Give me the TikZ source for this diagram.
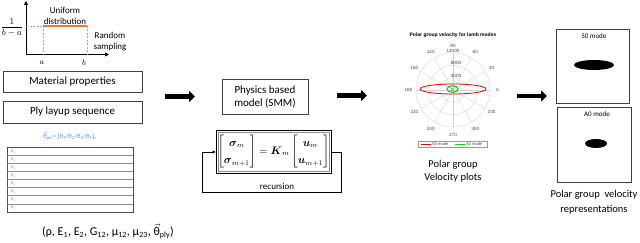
\documentclass[tikz,border=0pt]{standalone}
\usepackage{amsmath}
\usepackage{fontspec}
\setmainfont{Carlito}
\newfontfamily\arialf{Liberation Sans}
\usetikzlibrary{arrows.meta}
\definecolor{blueT}{RGB}{70,150,225}
\definecolor{orangeL}{RGB}{237,125,49}
\definecolor{dashB}{RGB}{120,175,230}
\begin{document}
\begin{tikzpicture}[x=1pt,y=-1pt,
  box/.style={draw=black!75, line width=0.6pt, inner sep=0pt, align=center},
  bigtext/.style={font=\fontsize{11}{13}\selectfont},
  bigarrow/.style={line width=4.6pt, -{Triangle[length=6pt,width=11pt]}},
  axisarrow/.style={line width=0.7pt, -{Triangle[length=4pt,width=4pt]}},
  dashline/.style={dashB, dashed, dash pattern=on 2pt off 1.5pt, line width=0.6pt},
  grid/.style={black!18, line width=0.35pt},
  plab/.style={font=\arialf\fontsize{4.6}{5}\selectfont, text=black!75, inner sep=0pt},
  thlab/.style={font=\fontsize{4}{4}\selectfont, text=blueT, inner sep=0pt, anchor=west},
  smalltext/.style={font=\fontsize{9}{10.5}\selectfont, align=center, inner sep=0pt}
]
\useasboundingbox (0,0) rectangle (640,243);
\fill[white] (0,0) rectangle (640,243);

% ---------- uniform distribution graph ----------
\coordinate (org) at (26,54.5);
\coordinate (ytop) at (26,1);
\coordinate (xend) at (109,54.5);
\draw[axisarrow] (org) -- (ytop);
\draw[axisarrow] (org) -- (xend);
\coordinate (fa) at (43,26);
\coordinate (fb) at (87,26);
\coordinate (fy) at (26,26);
\coordinate (xa) at (43,54.5);
\coordinate (xb) at (87,54.5);
\draw[dashline] (fy) -- (fa);
\draw[dashline] (fa) -- (xa);
\draw[dashline] (fb) -- (xb);
\draw[orangeL, line width=1.8pt] (fa) -- (fb);
\node[inner sep=0pt, font=\fontsize{9}{10}\selectfont] (frac) at (12,27.5) {$\dfrac{1}{b-a}$};
\node[inner sep=0pt, font=\fontsize{8}{9}\selectfont] (la) at (42,63) {$a$};
\node[inner sep=0pt, font=\fontsize{8}{9}\selectfont] (lb) at (84,63) {$b$};
\node[smalltext] (unif) at (65,16) {Uniform\\distribution};
\node[smalltext] (rand) at (110,41.5) {Random\\sampling};

% ---------- left column ----------
\node[box, bigtext, minimum width=139pt, minimum height=21pt] (mat) at (72.5,81.5) {Material properties};
\node[box, bigtext, minimum width=139pt, minimum height=22pt] (ply) at (72.5,112) {Ply layup sequence};
\node[inner sep=0pt, text=blueT, font=\fontsize{6.5}{7}\selectfont] (thply) at (70,136)
  {$\vec{\hbox{θ}}$\textsubscript{ply}= [θ\textsubscript{1}/θ\textsubscript{2}/θ\textsubscript{3}/θ\textsubscript{4}]\textsubscript{s}};
\node[draw=black!70, line width=0.6pt, minimum width=126pt, minimum height=65pt, inner sep=0pt] (tab) at (70,179.5) {};
\foreach \i in {1,...,7}{
  \draw[black!45, line width=0.7pt] (7,147+\i*8.125) -- (133,147+\i*8.125);
}
\foreach \i/\t in {0/1,1/2,2/3,3/4,4/4,5/3,6/2,7/1}{
  \node[thlab] (th\i) at (11,151.2+\i*8.125) {θ\textsubscript{\t}};
}
\node[inner sep=0pt, font=\fontsize{12}{14}\selectfont] (params) at (108,231)
  {(ρ, E\textsubscript{1}, E\textsubscript{2}, G\textsubscript{12}, μ\textsubscript{12}, μ\textsubscript{23}, $\vec{\hbox{θ}}$\textsubscript{ply})};

% ---------- arrows ----------
\coordinate (a1s) at (165,96.5);
\coordinate (a1e) at (195,96.5);
\draw[bigarrow] (a1s) -- (a1e);
\coordinate (a2s) at (337,95.5);
\coordinate (a2e) at (367,95.5);
\draw[bigarrow] (a2s) -- (a2e);
\coordinate (a3s) at (517,96);
\coordinate (a3e) at (547,96);
\draw[bigarrow] (a3s) -- (a3e);

% ---------- physics model ----------
\node[box, bigtext, minimum width=86pt, minimum height=35pt] (phys) at (265,96.5) {Physics based\\model (SMM)};
\node[draw=black, line width=0.8pt, minimum width=115pt, minimum height=43pt, inner sep=0pt] (eqbox) at (273.5,151.5) {};
\node[draw=black!45, line width=0.8pt, minimum width=111pt, minimum height=39pt, inner sep=0pt] (eqin) at (273.5,151.5) {};
\node[inner sep=0pt, font=\fontsize{10.5}{12}\selectfont] (eq) at (273.5,151.5)
  {\renewcommand{\arraystretch}{1.45}$\begin{bmatrix}\boldsymbol{\sigma}_m\\ \boldsymbol{\sigma}_{m+1}\end{bmatrix} = \boldsymbol{K}_m\begin{bmatrix}\boldsymbol{u}_m\\ \boldsymbol{u}_{m+1}\end{bmatrix}$};
\coordinate (r1) at (341,152);
\coordinate (r2) at (341,192);
\coordinate (r3) at (202,192);
\coordinate (r4) at (202,152);
\draw[line width=0.8pt, -{Triangle[length=3pt,width=3pt]}] (eqbox.east |- r1) -- (r1) -- (r2) -- (r3) -- (r4) -- (eqbox.west |- r4);
\node[smalltext] (rec) at (277,186.5) {recursion};

% ---------- polar plot ----------
\begin{scope}[shift={(453,90)}]
  \foreach \r in {12.33,24.67,37}{\draw[grid] (0,0) circle [radius=\r];}
  \foreach \a in {0,30,...,330}{\draw[grid] (0,0) -- (-\a:37);}
  \foreach \a in {0,30,...,330}{\node[plab] (p\a) at (-\a:44.5) {\a};}
  \node[plab] (r4k) at (3,-14.5) {4000};
  \node[plab] (r8k) at (3,-27) {8000};
  \node[plab] (r12k) at (0,-39.5) {12000};
  \node[plab] (r0) at (-0.5,-0.5) {0};
  \draw[red!90!black, line width=0.8pt] (0,-1) ellipse [x radius=33, y radius=5];
  \draw[green!85!black, line width=1.1pt] (-0.5,-1) ellipse [x radius=5.5, y radius=3.3];
\end{scope}
\node[plab, font=\arialf\bfseries\fontsize{5}{6}\selectfont, text=black] (ptitle) at (453,35.5) {Polar group velocity for lamb modes};
\node[draw=black!40, fill=white, line width=0.4pt, minimum width=69pt, minimum height=6.5pt, inner sep=0pt] (leg) at (452.5,144.2) {};
\coordinate (lr1) at (421,144.2);
\coordinate (lr2) at (431,144.2);
\draw[red!90!black, line width=0.6pt] (lr1) -- (lr2);
\node[plab, anchor=west, font=\arialf\fontsize{4}{5}\selectfont] (legs) at (432,144.2) {S0 mode};
\coordinate (lg1) at (455,144.2);
\coordinate (lg2) at (465,144.2);
\draw[green!85!black, line width=0.6pt] (lg1) -- (lg2);
\node[plab, anchor=west, font=\arialf\fontsize{4}{5}\selectfont] (lega) at (466,144.2) {A0 mode};
\node[bigtext, align=center, inner sep=0pt, font=\fontsize{10.5}{13}\selectfont] (pvp) at (453,171.5) {Polar group\\Velocity plots};

% ---------- representations ----------
\node[box, minimum width=73pt, minimum height=74pt] (s0box) at (592.5,66) {};
\node[inner sep=0pt, font=\fontsize{7}{8}\selectfont] (s0t) at (594,36.5) {S0 mode};
\fill[black] (594,65) ellipse [x radius=20, y radius=5];
\node[box, minimum width=74pt, minimum height=75pt] (a0box) at (594,144.5) {};
\node[inner sep=0pt, font=\fontsize{7}{8}\selectfont] (a0t) at (597,114.5) {A0 mode};
\fill[black] (596,143.5) ellipse [x radius=11, y radius=4.5];
\node[align=center, inner sep=0pt, font=\fontsize{10.5}{15}\selectfont] (rep) at (594,202.5) {Polar group\ \ velocity\\representations};
\end{tikzpicture}
\end{document}
